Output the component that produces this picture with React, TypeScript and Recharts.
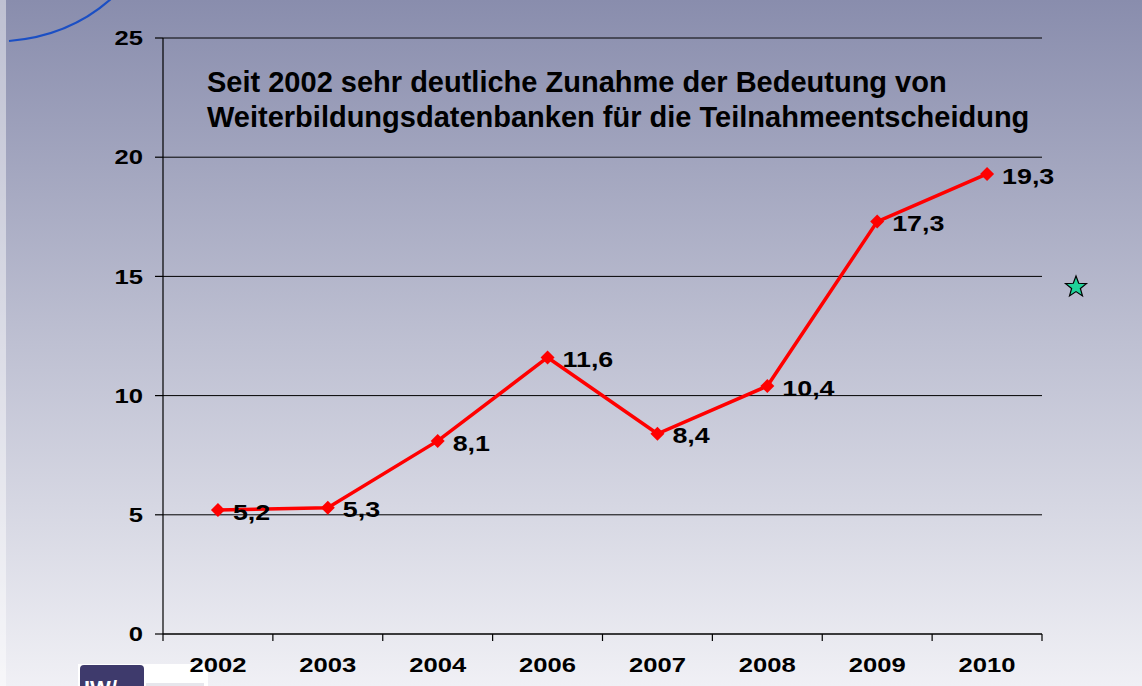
import React from 'react';
import { LineChart, Line, XAxis, YAxis, CartesianGrid } from 'recharts';

const years = ['2002', '2003', '2004', '2006', '2007', '2008', '2009', '2010'];
const shares = [5.2, 5.3, 8.1, 11.6, 8.4, 10.4, 17.3, 19.3];
const yTicks = [0, 5, 10, 15, 20, 25];
const titleLines = [
  'Seit 2002 sehr deutliche Zunahme der Bedeutung von',
  'Weiterbildungsdatenbanken für die Teilnahmeentscheidung',
];

const data = years.map((year, i) => ({ year, value: shares[i] }));

const W = 1142;
const H = 686;
const MARGIN = { top: 38, right: 100, bottom: 12, left: 103 };
const YAXIS_W = 60;
const XAXIS_H = 40;
const PLOT_W = W - MARGIN.left - YAXIS_W - MARGIN.right;
const BAND = PLOT_W / years.length;
const SX = 1.22;
const FONT = '"Liberation Sans", Arial, Helvetica, sans-serif';

const fmt = (v: number) => String(v).replace('.', ',');

const XTick = (props: any) => {
  const { x, y, payload, index } = props;
  const last = index === years.length - 1;
  return (
    <g>
      <line x1={x - BAND / 2} y1={y} x2={x - BAND / 2} y2={y + 7} stroke="#000" strokeWidth={1.2} />
      {last && <line x1={x + BAND / 2} y1={y} x2={x + BAND / 2} y2={y + 7} stroke="#000" strokeWidth={1.2} />}
      <text
        transform={`translate(${x},${y + 31}) scale(${SX},1)`}
        textAnchor="middle"
        dominantBaseline="central"
        fontSize={21}
        fontWeight="bold"
        fontFamily={FONT}
        fill="#000"
      >
        {payload.value}
      </text>
    </g>
  );
};

const YTick = (props: any) => {
  const { x, y, payload } = props;
  return (
    <text
      transform={`translate(${x},${y}) scale(${SX},1)`}
      textAnchor="end"
      dominantBaseline="central"
      fontSize={21}
      fontWeight="bold"
      fontFamily={FONT}
      fill="#000"
    >
      {payload.value}
    </text>
  );
};

const Diamond = (props: any) => {
  const { cx, cy } = props;
  if (cx == null || cy == null) return null;
  const r = 7;
  return <polygon points={`${cx},${cy - r} ${cx + r},${cy} ${cx},${cy + r} ${cx - r},${cy}`} fill="#ff0000" />;
};

const ValueLabel = (props: any) => {
  const { x, y, value } = props;
  return (
    <text
      transform={`translate(${x + 15},${y + 2}) scale(${SX},1)`}
      textAnchor="start"
      dominantBaseline="central"
      fontSize={22}
      fontWeight="bold"
      fontFamily={FONT}
      fill="#000"
    >
      {fmt(value)}
    </text>
  );
};

const starPoints = (cx: number, cy: number, ro: number, ri: number) => {
  const pts: string[] = [];
  for (let i = 0; i < 10; i++) {
    const r = i % 2 === 0 ? ro : ri;
    const a = -Math.PI / 2 + (i * Math.PI) / 5;
    pts.push(`${(cx + r * Math.cos(a)).toFixed(2)},${(cy + r * Math.sin(a)).toFixed(2)}`);
  }
  return pts.join(' ');
};

export default function App() {
  return (
    <div
      style={{
        position: 'absolute',
        left: 0,
        top: 0,
        width: W,
        height: H,
        overflow: 'hidden',
        background: 'linear-gradient(to bottom, #898dad 0%, #bec0d2 50%, #f0f0f5 100%)',
      }}
    >
      <div style={{ position: 'absolute', left: 0, top: 0, width: 6, height: H, background: 'rgba(255,255,255,0.45)' }} />
      <svg
        width={W}
        height={H}
        style={{ position: 'absolute', left: 0, top: 0, pointerEvents: 'none' }}
      >
        <path d="M9,41 Q70,36 112,-2" fill="none" stroke="#1b4fc4" strokeWidth={2.2} />
        <rect x={78} y={664} width={130} height={30} fill="#ffffff" />
        <rect x={80} y={665} width={64} height={30} rx={4} fill="#3e3a6c" />
        <rect x={146} y={683} width={58} height={10} fill="#e6e6ec" />
        <text x={84} y={696} fontSize={22} fontWeight="bold" fontFamily={FONT} fill="#ffffff">
          IW/
        </text>
        <polygon points={starPoints(1076, 287, 11, 4.6)} fill="#1fd39a" stroke="#000" strokeWidth={1.2} />
      </svg>
      <div style={{ position: 'absolute', left: 0, top: 0 }}>
        <LineChart width={W} height={H} data={data} margin={MARGIN}>
          <CartesianGrid vertical={false} stroke="#000" strokeWidth={1} />
          <XAxis
            dataKey="year"
            scale="band"
            height={XAXIS_H}
            interval={0}
            axisLine={{ stroke: '#000', strokeWidth: 1.2 }}
            tickLine={false}
            tickSize={0}
            tickMargin={0}
            tick={<XTick />}
          />
          <YAxis
            domain={[0, 25]}
            ticks={yTicks}
            interval={0}
            width={YAXIS_W}
            axisLine={{ stroke: '#000', strokeWidth: 1.2 }}
            tickLine={{ stroke: '#000', strokeWidth: 1.2 }}
            tickSize={8}
            tickMargin={12}
            tick={<YTick />}
          />
          <YAxis
            yAxisId="right"
            orientation="right"
            domain={[0, 25]}
            width={0}
            tick={false}
            tickLine={false}
            axisLine={{ stroke: '#000', strokeWidth: 1.2 }}
          />
          <Line
            dataKey="value"
            stroke="#ff0000"
            strokeWidth={3.5}
            dot={<Diamond />}
            activeDot={false}
            label={<ValueLabel />}
            isAnimationActive={false}
          />
        </LineChart>
      </div>
      <svg
        width={W}
        height={H}
        style={{ position: 'absolute', left: 0, top: 0, pointerEvents: 'none' }}
      >
        <text x={207} y={92} fontSize={29} fontWeight="bold" fontFamily={FONT} fill="#000">
          {titleLines[0]}
        </text>
        <text x={207} y={127} fontSize={29} fontWeight="bold" fontFamily={FONT} fill="#000">
          {titleLines[1]}
        </text>
      </svg>
    </div>
  );
}
